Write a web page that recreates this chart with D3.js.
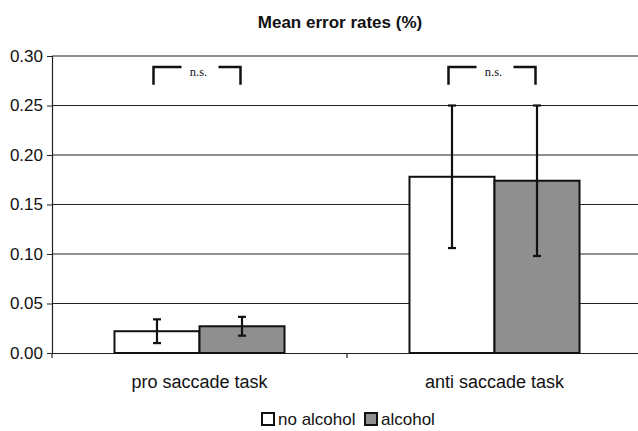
<!DOCTYPE html>
<html>
<head>
<meta charset="utf-8">
<script src="https://cdn.jsdelivr.net/npm/d3@7"></script>
<style>
  body { margin: 0; background: #fff; }
  text { font-family: "Liberation Sans", Arial, sans-serif; fill: #111; }
</style>
</head>
<body>
<div id="chart"></div>
<script>
// data
const tasks = ["pro saccade task", "anti saccade task"];
const series = ["no alcohol", "alcohol"];
const means = [[0.022, 0.027], [0.178, 0.174]];
const errs = [[0.012, 0.0095], [0.072, 0.076]];
const yTicks = [0, 0.05, 0.10, 0.15, 0.20, 0.25, 0.30];
const sigLabels = ["n.s.", "n.s."];
const colors = ["#ffffff", "#8f8f8f"];

const W = 638, H = 431;
const margin = {top: 56, right: -4, bottom: 78, left: 52};
const width = W - margin.left - margin.right;
const height = H - margin.top - margin.bottom;

const svg = d3.select("#chart").append("svg")
  .attr("width", W).attr("height", H)
  .append("g")
  .attr("transform", `translate(${margin.left},${margin.top})`);

const x = d3.scaleBand().domain(tasks).range([0, width]).padding(0);
const xs = d3.scaleBand().domain(series).range([0, x.bandwidth()])
  .paddingInner(0).paddingOuter(0.735);
const y = d3.scaleLinear().domain([0, 0.30]).range([height, 0]);

// title
d3.select("svg").append("text")
  .attr("x", 340).attr("y", 28)
  .attr("text-anchor", "middle")
  .style("font-weight", "bold").style("font-size", "17px")
  .text("Mean error rates (%)");

// gridlines
svg.append("g").selectAll("line")
  .data(yTicks.slice(1))
  .enter().append("line")
  .attr("x1", 0).attr("x2", width)
  .attr("y1", d => y(d)).attr("y2", d => y(d))
  .attr("stroke", "#222").attr("stroke-width", 1.2);

// y axis
const yAxis = svg.append("g")
  .call(d3.axisLeft(y).tickValues(yTicks).tickFormat(d3.format(".2f")).tickSize(5).tickPadding(4));
yAxis.select(".domain").attr("stroke", "#222").attr("stroke-width", 1.2);
yAxis.selectAll(".tick line").attr("stroke", "#222");
yAxis.selectAll("text").style("font-size", "17px").attr("fill", "#111");

// x axis
const xAxis = svg.append("g")
  .attr("transform", `translate(0,${height})`)
  .call(d3.axisBottom(x).tickSize(0).tickPadding(22));
xAxis.select(".domain").attr("stroke", "#222").attr("stroke-width", 1.2);
xAxis.selectAll("text").style("font-size", "18px").attr("fill", "#111");
svg.append("g").selectAll("line")
  .data(tasks.concat([null]))
  .enter().append("line")
  .attr("x1", (d, i) => i * x.step()).attr("x2", (d, i) => i * x.step())
  .attr("y1", height).attr("y2", height + 5)
  .attr("stroke", "#222").attr("stroke-width", 1.2);

// bars
const groups = svg.selectAll(".grp")
  .data(tasks)
  .enter().append("g")
  .attr("class", "grp")
  .attr("transform", d => `translate(${x(d)},0)`);

groups.each(function(t, ti) {
  const g = d3.select(this);
  series.forEach((s, si) => {
    g.append("rect")
      .attr("x", xs(s)).attr("width", xs.bandwidth())
      .attr("y", y(means[ti][si])).attr("height", height - y(means[ti][si]))
      .attr("fill", colors[si]).attr("stroke", "#111").attr("stroke-width", 2);
  });
  series.forEach((s, si) => {
    const cx = xs(s) + xs.bandwidth() / 2;
    const lo = y(means[ti][si] - errs[ti][si]), hi = y(means[ti][si] + errs[ti][si]);
    g.append("line").attr("x1", cx).attr("x2", cx).attr("y1", lo).attr("y2", hi)
      .attr("stroke", "#111").attr("stroke-width", 2.2);
    [lo, hi].forEach(v => {
      g.append("line").attr("x1", cx - 4).attr("x2", cx + 4).attr("y1", v).attr("y2", v)
        .attr("stroke", "#111").attr("stroke-width", 2.2);
    });
  });

  // significance bracket
  const c = x.bandwidth() / 2;
  const bl = c - 46, br = c + 41;
  const top = y(0.289), bot = y(0.271);
  g.append("path")
    .attr("d", `M${bl},${bot}V${top}H${bl + 28}`)
    .attr("fill", "none").attr("stroke", "#111").attr("stroke-width", 2.5);
  g.append("path")
    .attr("d", `M${br - 22},${top}H${br}V${bot}`)
    .attr("fill", "none").attr("stroke", "#111").attr("stroke-width", 2.5);
  g.append("text")
    .attr("x", c - 1).attr("y", y(0.28))
    .attr("text-anchor", "middle")
    .style("font-family", "'Liberation Serif', 'Times New Roman', serif")
    .style("font-size", "12.5px")
    .text(sigLabels[ti]);
});

// legend
const legend = d3.select("svg").append("g").attr("transform", "translate(262,413)");
const offs = [0, 103];
series.forEach((s, i) => {
  const lg = legend.append("g").attr("transform", `translate(${offs[i]},0)`);
  lg.append("rect").attr("width", 12).attr("height", 12)
    .attr("fill", colors[i]).attr("stroke", "#111").attr("stroke-width", 2);
  lg.append("text").attr("x", 16).attr("y", 12)
    .style("font-size", "17px").text(s);
});
</script>
</body>
</html>
